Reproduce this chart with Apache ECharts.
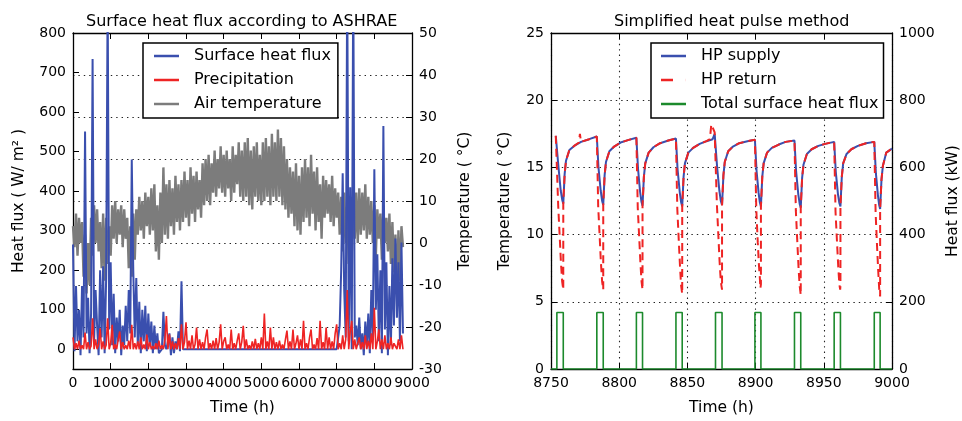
<!DOCTYPE html>
<html><head><meta charset="utf-8">
<script src="https://cdn.jsdelivr.net/npm/echarts@6/dist/echarts.min.js"></script>
<style>html,body{margin:0;padding:0;background:#fff}#c{width:962px;height:421px}</style>
</head><body><div id="c"></div>
<script>
// ---------- Left chart: hourly series sampled every 40 h ----------
const STEP_H = 40;
const surfaceHeatFlux = [
  265, -5, 160, 20, 100, -15, 160, 30, 551, 40,
  130, -10, 90, 734, 20, 150, 60, -15, 200, 30,
  210, -10, 180, 900, 50, 220, 10, 140, -10, 80,
  20, 100, -15, 60, 10, 110, 20, 150, 40, 480,
  200, 30, 180, 10, 120, -10, 100, 20, 110, -5,
  90, 10, 70, -10, 60, 0, 40, -10, -5, 0,
  95, 10, 0, 0, 40, -15, 30, -10, 20, 0,
  45, -5, 172, 0, 0, 0, 0, 0, 0, 0,
  0, 0, 0, 0, 0, 0, 0, 0, 0, 0,
  0, 0, 0, 0, 0, 0, 0, 0, 0, 0,
  0, 0, 0, 0, 0, 0, 0, 0, 0, 0,
  0, 0, 0, 0, 0, 0, 0, 0, 0, 0,
  0, 0, 0, 0, 0, 0, 0, 0, 0, 0,
  0, 0, 0, 0, 0, 0, 0, 0, 0, 0,
  0, 0, 0, 0, 0, 0, 0, 0, 0, 0,
  0, 0, 0, 0, 0, 0, 0, 0, 0, 0,
  0, 0, 0, 0, 0, 0, 0, 0, 0, 0,
  0, 0, 0, 0, 0, 0, 0, 60, 200, 445,
  150, 30, 950, 20, 410, 0, 950, 30, 60, 10,
  80, 0, 40, -15, 70, 10, 90, -10, 150, 30,
  455, 100, 240, 20, 200, -10, 565, 50, 220, -15,
  160, 10, 230, 60, 280, 80, 220, 20, 270, 40
];
const precipitation = [
  30, 0, 15, 0, 22, 0, 10, 0, 42, 0,
  18, 0, 8, 78, 0, 25, 0, 12, 53, 0,
  20, 0, 10, 78, 0, 15, 62, 0, 12, 0,
  25, 45, 0, 18, 0, 10, 0, 22, 0, 62,
  0, 15, 0, 20, 0, 30, 0, 12, 0, 37,
  0, 18, 0, 8, 0, 15, 0, 22, 0, 10,
  0, 25, 84, 0, 38, 0, 20, 0, 15, 0,
  28, 0, 63, 0, 18, 68, 0, 22, 0, 35,
  0, 12, 55, 0, 25, 0, 18, 0, 30, 50,
  0, 15, 0, 22, 0, 28, 0, 18, 63, 0,
  20, 30, 0, 12, 0, 50, 0, 15, 0, 22,
  40, 0, 18, 59, 0, 25, 0, 10, 0, 20,
  0, 26, 0, 15, 0, 30, 0, 90, 0, 20,
  0, 55, 0, 30, 0, 18, 0, 22, 0, 12,
  0, 25, 47, 0, 20, 0, 50, 0, 15, 35,
  0, 25, 0, 72, 0, 15, 0, 30, 50, 0,
  12, 0, 28, 0, 72, 0, 18, 0, 55, 0,
  30, 0, 20, 0, 40, 63, 0, 15, 0, 35,
  0, 25, 150, 0, 45, 72, 0, 25, 0, 15,
  30, 0, 18, 0, 35, 0, 22, 0, 40, 0,
  105, 0, 20, 50, 0, 25, 0, 35, 0, 15,
  0, 30, 0, 15, 20, 0, 25, 0, 35, 0
];
const airTemperature = [
  4, -1, 7, -3, 6, 0, 5, -8, 2, -12,
  0, -10, 6, -3, 9, 0, 8, -2, 5, -6,
  7, -9, 6, -5, 4, -3, 9, 1, 10, 0,
  8, 2, 9, -1, 8, 1, 6, -6, 4, -8,
  7, -4, 8, 2, 11, 3, 10, 1, 12, 4,
  11, 2, 13, 3, 14, -2, 9, -4, 12, 0,
  18, 2, 14, 1, 15, 4, 13, 2, 16, 5,
  14, 3, 15, 5, 17, 6, 15, 4, 18, 7,
  16, 5, 17, 8, 15, 6, 19, 9, 20, 10,
  21, 9, 19, 12, 22, 11, 20, 13, 23, 12,
  21, 11, 22, 13, 20, 10, 23, 12, 21, 14,
  24, 11, 22, 10, 24, 11, 25, 9, 22, 8,
  23, 11, 24, 10, 21, 9, 24, 10, 25, 11,
  23, 9, 26, 11, 24, 10, 27, 11, 25, 9,
  23, 8, 20, 6, 18, 7, 17, 4, 19, 3,
  16, 2, 18, 5, 20, 6, 18, 4, 21, 7,
  17, 3, 18, 5, 14, 1, 16, 6, 15, 7,
  14, 5, 16, 4, 13, 6, 12, 2, 11, -2,
  12, 0, 9, -5, 10, -3, 11, 1, 12, 0,
  13, 2, 12, 3, 14, 1, 11, 2, 10, 0,
  9, -3, 8, 1, 7, -4, 9, 0, 6, -2,
  7, -5, 5, -7, 2, -12, 3, -9, 4, -1
];
const fluxTicks = [0, 100, 200, 300, 400, 500, 600, 700, 800];

// ---------- Right chart: heat pulse method ----------
const hpSupply = [
  [8753.5,17.35],[8754.3,17.3],[8755.5,15.0],[8757.1,13.3],[8758.2,12.6],[8759.0,12.3],[8760.0,14.5],[8761.0,15.5],[8763.5,16.3],[8767.0,16.6],[8772.0,16.9],[8778.0,17.1],[8783.6,17.3],
  [8784.8,15.0],[8786.4,13.3],[8787.5,12.5],[8788.3,12.2],[8789.3,14.4],[8790.3,15.4],[8792.8,16.2],[8796.3,16.55],[8801.0,16.85],[8807.0,17.05],[8812.6,17.2],
  [8813.8,14.9],[8815.3,13.2],[8816.3,12.45],[8817.1,12.15],[8818.1,14.3],[8819.1,15.3],[8821.6,16.1],[8825.1,16.5],[8830.0,16.8],[8836.0,17.0],[8841.6,17.15],
  [8842.8,14.85],[8844.4,13.15],[8845.4,12.4],[8846.2,12.1],[8847.2,14.3],[8848.2,15.3],[8850.7,16.1],[8854.2,16.45],[8859.0,16.75],[8864.0,16.95],[8868.5,17.1],[8870.0,17.5],[8870.6,17.6],
  [8871.8,15.0],[8873.4,13.3],[8874.5,12.5],[8875.4,12.2],[8876.4,14.4],[8877.4,15.4],[8879.9,16.2],[8883.4,16.55],[8888.0,16.8],[8894.0,16.95],[8899.5,17.05],
  [8900.7,14.75],[8902.2,13.1],[8903.1,12.4],[8903.9,12.1],[8904.9,14.3],[8905.9,15.3],[8908.4,16.1],[8911.9,16.45],[8917.0,16.7],[8922.0,16.9],[8928.5,17.0],
  [8929.7,14.7],[8931.3,13.0],[8932.3,12.3],[8933.1,12.0],[8934.1,14.2],[8935.1,15.2],[8937.6,16.0],[8941.1,16.35],[8946.0,16.6],[8951.0,16.75],[8957.6,16.9],
  [8958.8,14.65],[8960.4,13.0],[8961.4,12.35],[8962.2,12.1],[8963.2,14.3],[8964.2,15.3],[8966.7,16.0],[8970.2,16.35],[8975.0,16.6],[8981.0,16.8],[8987.0,16.9],
  [8988.2,14.55],[8989.7,12.9],[8990.6,12.2],[8991.3,11.9],[8992.3,14.1],[8993.3,15.1],[8995.8,16.1],[9000.0,16.4]
];
const hpReturn = [
  [8753.5,17.35],[8754.3,17.3],[8755.3,12.1],[8756.5,9.6],[8757.3,7.9],[8758.2,6.5],[8759.0,5.9],[8759.0,12.3],[8760.0,14.5],[8761.0,15.5],[8763.5,16.3],[8767.0,16.6],[8770.5,16.85],[8771.2,17.5],[8772.0,16.9],[8778.0,17.1],[8783.6,17.3],
  [8784.6,12.1],[8785.8,9.6],[8786.6,7.9],[8787.5,6.5],[8788.3,5.9],[8788.3,12.2],[8789.3,14.4],[8790.3,15.4],[8792.8,16.2],[8796.3,16.55],[8801.0,16.85],[8807.0,17.05],[8812.6,17.2],
  [8813.6,12.0],[8814.8,9.5],[8815.6,7.8],[8816.4,6.5],[8817.1,5.9],[8817.1,12.15],[8818.1,14.3],[8819.1,15.3],[8821.6,16.1],[8825.1,16.5],[8830.0,16.8],[8836.0,17.0],[8841.6,17.15],
  [8842.6,11.9],[8843.8,9.3],[8844.6,7.6],[8845.4,6.2],[8846.2,5.6],[8846.2,12.1],[8847.2,14.3],[8848.2,15.3],[8850.7,16.1],[8854.2,16.45],[8859.0,16.75],[8864.0,16.95],[8866.5,17.1],[8867.5,18.2],[8868.8,17.9],[8870.0,17.6],[8870.6,17.6],
  [8871.6,12.3],[8872.8,9.7],[8873.6,8.0],[8874.5,6.5],[8875.4,5.9],[8875.4,12.2],[8876.4,14.4],[8877.4,15.4],[8879.9,16.2],[8883.4,16.55],[8888.0,16.8],[8894.0,16.95],[8899.5,17.05],
  [8900.5,11.9],[8901.6,9.4],[8902.4,7.8],[8903.1,6.8],[8903.5,6.0],[8903.9,6.3],[8903.9,12.1],[8904.9,14.3],[8905.9,15.3],[8908.4,16.1],[8911.9,16.45],[8917.0,16.7],[8922.0,16.9],[8928.5,17.0],
  [8929.5,11.8],[8930.7,9.2],[8931.5,7.5],[8932.3,6.2],[8933.1,5.5],[8933.1,12.0],[8934.1,14.2],[8935.1,15.2],[8937.6,16.0],[8941.1,16.35],[8946.0,16.6],[8951.0,16.75],[8957.6,16.9],
  [8958.6,11.7],[8959.8,9.2],[8960.6,7.6],[8961.4,6.3],[8962.0,5.9],[8962.2,6.2],[8962.2,12.1],[8963.2,14.3],[8964.2,15.3],[8966.7,16.0],[8970.2,16.35],[8975.0,16.6],[8981.0,16.8],[8987.0,16.9],
  [8988.0,11.6],[8989.1,9.0],[8989.9,7.3],[8990.6,6.0],[8991.3,5.4],[8991.3,11.9],[8992.3,14.1],[8993.3,15.1],[8995.8,16.1],[9000.0,16.4]
];
const pulseStart = [8754.3, 8783.6, 8812.6, 8841.6, 8870.6, 8899.5, 8928.5, 8957.6, 8987.0];
const pulseEnd   = [8759.0, 8788.3, 8817.1, 8846.2, 8875.4, 8903.9, 8933.1, 8962.2, 8991.3];
const pulsePower = [168, 168, 168, 168, 168, 168, 168, 168, 168];

// ---------- build series data ----------
const toPairs = arr => arr.map((v, i) => [i * STEP_H, v]);
const greenData = [[8750, 0]];
pulseStart.forEach((s, k) => {
  greenData.push([s, 0], [s, pulsePower[k]], [pulseEnd[k], pulsePower[k]], [pulseEnd[k], 0]);
});
greenData.push([9000, 0]);

const FONT = 'DejaVu Sans';
const BLUE = '#3a4fae', RED = '#ee2424', GRAY = '#7c7c7c', GREEN = '#1c8a2c';
const dotted = { show: true, lineStyle: { color: '#222', width: 1.1, type: [1.4, 4] } };
const axisLine = { show: true, onZero: false, lineStyle: { color: '#000', width: 1.3 } };
const tick = { show: true, inside: true, length: 6, lineStyle: { color: '#000', width: 1 } };
const lbl = { color: '#000', fontSize: 14, fontFamily: FONT, margin: 7, formatter: v => String(v) };
const nameStyle = { color: '#000', fontSize: 15.5, fontFamily: FONT };
const SOLID_ICON = 'path://M0,0H25V2.5H0Z';
const DASH_ICON = 'path://M0,0H12V2.5H0ZM24.9,0H25V2.5H24.9Z';
const legendBase = {
  selectedMode: false, orient: 'vertical', top: 43, itemWidth: 25, itemHeight: 2.5, itemGap: 6,
  borderColor: '#000', borderWidth: 1.5, backgroundColor: '#fff',
  textStyle: { fontSize: 16, fontFamily: FONT, color: '#000', lineHeight: 18, padding: [0, 0, 0, 10] }
};

const chart = echarts.init(document.getElementById('c'), null, { renderer: 'canvas' });
chart.setOption({
  animation: false,
  backgroundColor: '#fff',
  textStyle: { fontFamily: FONT },
  title: [
    { text: 'Surface heat flux according to ASHRAE', left: 86, top: 14, padding: 0,
      textStyle: { fontSize: 16, fontWeight: 'normal', color: '#000', fontFamily: FONT } },
    { text: 'Simplified heat pulse method', left: 614, top: 14, padding: 0,
      textStyle: { fontSize: 16, fontWeight: 'normal', color: '#000', fontFamily: FONT } }
  ],
  grid: [
    { left: 73, right: 550, top: 33, bottom: 48, containLabel: false },
    { left: 551, right: 66, top: 33, bottom: 48, containLabel: false }
  ],
  legend: [
    Object.assign({}, legendBase, {
      left: 143, padding: [4, 7, 5, 11],
      data: [
        { name: 'Surface heat flux', icon: SOLID_ICON },
        { name: 'Precipitation', icon: SOLID_ICON },
        { name: 'Air temperature', icon: SOLID_ICON }
      ] }),
    Object.assign({}, legendBase, {
      left: 651, padding: [4, 5, 5, 10],
      data: [
        { name: 'HP supply', icon: SOLID_ICON },
        { name: 'HP return', icon: DASH_ICON },
        { name: 'Total surface heat flux', icon: SOLID_ICON }
      ] })
  ],
  xAxis: [
    { gridIndex: 0, type: 'value', position: 'bottom', min: 0, max: 9000, interval: 1000,
      axisLine, axisTick: tick, axisLabel: lbl, splitLine: { show: false },
      name: 'Time (h)', nameLocation: 'middle', nameGap: 31, nameTextStyle: nameStyle },
    { gridIndex: 0, type: 'value', position: 'top', min: 0, max: 9000, interval: 1000,
      axisLine, axisTick: tick, axisLabel: { show: false }, splitLine: { show: false } },
    { gridIndex: 1, type: 'value', position: 'bottom', min: 8750, max: 9000, interval: 50,
      axisLine, axisTick: tick, axisLabel: lbl, splitLine: dotted,
      name: 'Time (h)', nameLocation: 'middle', nameGap: 31, nameTextStyle: nameStyle },
    { gridIndex: 1, type: 'value', position: 'top', min: 8750, max: 9000, interval: 50,
      axisLine, axisTick: tick, axisLabel: { show: false }, splitLine: { show: false } }
  ],
  yAxis: [
    { gridIndex: 0, type: 'value', position: 'left', min: -50, max: 800,
      axisLine, axisTick: Object.assign({}, tick, { customValues: fluxTicks }),
      axisLabel: Object.assign({}, lbl, { customValues: fluxTicks }), splitLine: { show: false },
      name: 'Heat flux ( W/ m² )', nameLocation: 'middle', nameGap: 46, nameTextStyle: nameStyle },
    { gridIndex: 0, type: 'value', position: 'right', min: -30, max: 50, interval: 10,
      axisLine, axisTick: tick, axisLabel: lbl, splitLine: dotted,
      name: 'Temperature ( °C)', nameLocation: 'middle', nameGap: 45, nameTextStyle: nameStyle },
    { gridIndex: 1, type: 'value', position: 'left', min: 0, max: 25, interval: 5,
      axisLine, axisTick: tick, axisLabel: lbl, splitLine: dotted,
      name: 'Temperature ( °C)', nameLocation: 'middle', nameGap: 38, nameTextStyle: nameStyle },
    { gridIndex: 1, type: 'value', position: 'right', min: 0, max: 1000, interval: 200,
      axisLine, axisTick: tick, axisLabel: lbl, splitLine: { show: false },
      name: 'Heat flux (kW)', nameLocation: 'middle', nameGap: 53, nameTextStyle: nameStyle }
  ],
  series: [
    { name: 'Air temperature', type: 'line', xAxisIndex: 0, yAxisIndex: 1, symbol: 'none', z: 2,
      data: toPairs(airTemperature), lineStyle: { color: GRAY, width: 2.4 }, itemStyle: { color: GRAY } },
    { name: 'Surface heat flux', type: 'line', xAxisIndex: 0, yAxisIndex: 0, symbol: 'none', z: 3,
      data: toPairs(surfaceHeatFlux), lineStyle: { color: BLUE, width: 2 }, itemStyle: { color: BLUE } },
    { name: 'Precipitation', type: 'line', xAxisIndex: 0, yAxisIndex: 0, symbol: 'none', z: 4,
      data: toPairs(precipitation), lineStyle: { color: RED, width: 1.6 }, itemStyle: { color: RED } },
    { name: 'HP supply', type: 'line', xAxisIndex: 2, yAxisIndex: 2, symbol: 'none', z: 3,
      data: hpSupply, lineStyle: { color: BLUE, width: 2 }, itemStyle: { color: BLUE } },
    { name: 'HP return', type: 'line', xAxisIndex: 2, yAxisIndex: 2, symbol: 'none', z: 4,
      data: hpReturn, lineStyle: { color: RED, width: 2, type: [8, 5] }, itemStyle: { color: RED } },
    { name: 'Total surface heat flux', type: 'line', xAxisIndex: 2, yAxisIndex: 3, symbol: 'none', z: 3,
      data: greenData, lineStyle: { color: GREEN, width: 1.6 }, itemStyle: { color: GREEN } }
  ]
});
</script>
</body></html>
